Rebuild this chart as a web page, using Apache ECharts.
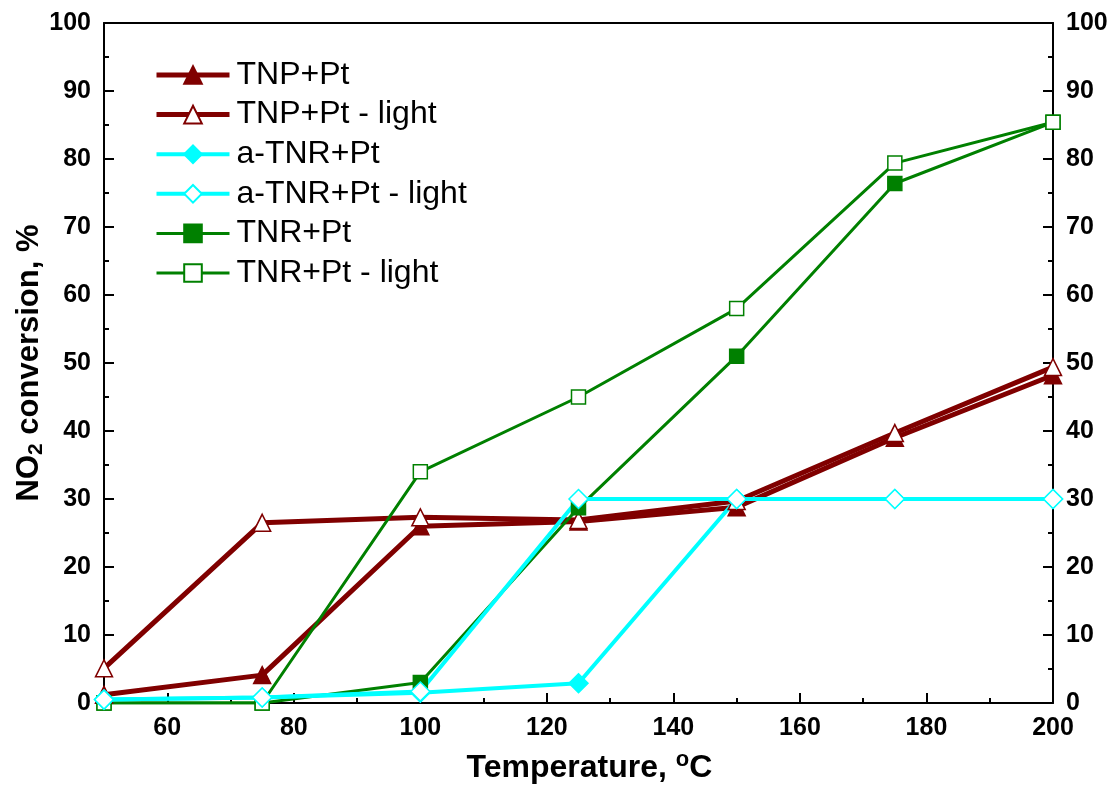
<!DOCTYPE html>
<html>
<head>
<meta charset="utf-8">
<script src="https://cdn.jsdelivr.net/npm/echarts@6/dist/echarts.min.js"></script>
<style>
  html, body { margin: 0; padding: 0; background: #fff; }
  #main { width: 1118px; height: 787px; }
</style>
</head>
<body>
<div id="main"></div>
<script>
// temperatures (°C)
const temps = [50, 75, 100, 125, 150, 175, 200];

// NO2 conversion, %
const tnpPt = [1.2, 4.1, 26, 26.7, 28.8, 39, 48.2];
const tnpPtLight = [5.1, 26.5, 27.3, 26.9, 29.7, 39.7, 49.4];
const aTnrPt = [0.5, 0.8, 1.5, 2.9, 30, 30, 30];
const aTnrPtLight = [0.5, 0.8, 1.7, 30, 30, 30, 30];
const tnrPt = [0, 0, 3, 28.7, 51, 76.4, 85.4];
const tnrPtLight = [0, 0, 34, 45, 58, 79.4, 85.4];

// tick labels
const xMajor = [60, 80, 100, 120, 140, 160, 180, 200];
const xMinor = [70, 90, 110, 130, 150, 170, 190];

const FONT = 'Liberation Sans, Arial, sans-serif';
const DARKRED = '#800000';
const CYAN = '#00ffff';
const GREEN = '#008000';

function pairs(ys) {
  return temps.map(function (t, i) { return [t, ys[i]]; });
}

let chartDom = document.getElementById('main');
let myChart = echarts.init(chartDom);

const tickLabel = {
  color: '#000',
  fontFamily: FONT,
  fontWeight: 'bold',
  fontSize: 25
};

function mkSeries(name, ys, color, width, symbol, size, filled) {
  return {
    name: name,
    type: 'line',
    data: pairs(ys),
    symbol: symbol,
    symbolSize: size,
    showAllSymbol: true,
    lineStyle: { color: color, width: width },
    itemStyle: {
      color: filled ? color : '#fff',
      borderColor: color,
      borderWidth: 1.5
    },
    emphasis: { disabled: true },
    animation: false
  };
}

let option = {
  animation: false,
  grid: { left: 104, right: 65, top: 23, bottom: 84, outerBoundsMode: 'none', containLabel: false },
  legend: {
    orient: 'vertical',
    left: 154,
    top: 59,
    itemWidth: 73,
    itemHeight: 22,
    itemGap: 7.6,
    padding: 0,
    textStyle: { fontFamily: FONT, fontSize: 32, color: '#000', padding: [0, 0, 0, 2] },
    data: [
      { name: 'TNP+Pt', lineStyle: { width: 5 } },
      { name: 'TNP+Pt - light', lineStyle: { width: 5 } },
      { name: 'a-TNR+Pt', lineStyle: { width: 4 } },
      { name: 'a-TNR+Pt - light', lineStyle: { width: 4 } },
      { name: 'TNR+Pt', lineStyle: { width: 3 } },
      { name: 'TNR+Pt - light', lineStyle: { width: 3 } }
    ]
  },
  xAxis: [
    {
      type: 'value',
      min: 50,
      max: 200,
      position: 'bottom',
      axisLine: { lineStyle: { color: '#000', width: 2 } },
      axisTick: { inside: true, length: 10, lineStyle: { color: '#000', width: 2 }, customValues: xMajor },
      axisLabel: Object.assign({ margin: 13, customValues: xMajor }, tickLabel),
      splitLine: { show: false },
      name: 'Temperature, {sup|o}C',
      nameLocation: 'middle',
      nameGap: 46,
      nameTextStyle: {
        color: '#000',
        fontFamily: FONT,
        fontWeight: 'bold',
        fontSize: 32,
        padding: [0, 0, 0, 22],
        rich: {
          sup: { fontFamily: FONT, fontWeight: 'bold', fontSize: 22, color: '#000', verticalAlign: 'top', padding: [0, 0, 16, 0] }
        }
      }
    },
    {
      type: 'value',
      min: 50,
      max: 200,
      position: 'bottom',
      axisLine: { show: false },
      axisTick: { inside: true, length: 5, lineStyle: { color: '#000', width: 2 }, customValues: xMinor },
      axisLabel: { show: false },
      splitLine: { show: false }
    },
    {
      type: 'value',
      min: 50,
      max: 200,
      position: 'top',
      axisLine: { lineStyle: { color: '#000', width: 2 } },
      axisTick: { show: false },
      axisLabel: { show: false },
      splitLine: { show: false }
    }
  ],
  yAxis: [
    {
      type: 'value',
      min: 0,
      max: 100,
      interval: 10,
      position: 'left',
      axisLine: { show: true, lineStyle: { color: '#000', width: 2 } },
      axisTick: { show: true, inside: true, length: 10, lineStyle: { color: '#000', width: 2 } },
      minorTick: { show: true, splitNumber: 2, length: 5, lineStyle: { color: '#000', width: 2 } },
      axisLabel: Object.assign({ margin: 13 }, tickLabel),
      splitLine: { show: false },
      name: 'NO{sub|2} conversion, %',
      nameLocation: 'middle',
      nameGap: 57,
      nameMoveOverlap: false,
      nameTextStyle: {
        color: '#000',
        fontFamily: FONT,
        fontWeight: 'bold',
        fontSize: 31,
        rich: {
          sub: { fontFamily: FONT, fontWeight: 'bold', fontSize: 21, color: '#000', verticalAlign: 'bottom', padding: [14, 0, 0, 0] }
        }
      }
    },
    {
      type: 'value',
      min: 0,
      max: 100,
      interval: 10,
      position: 'right',
      axisLine: { show: true, lineStyle: { color: '#000', width: 2 } },
      axisTick: { show: true, inside: true, length: 10, lineStyle: { color: '#000', width: 2 } },
      minorTick: { show: true, splitNumber: 2, length: 5, lineStyle: { color: '#000', width: 2 } },
      axisLabel: Object.assign({ margin: 13 }, tickLabel),
      splitLine: { show: false }
    }
  ],
  series: [
    mkSeries('TNP+Pt', tnpPt, DARKRED, 5, 'triangle', 17, true),
    mkSeries('TNP+Pt - light', tnpPtLight, DARKRED, 5, 'triangle', 17, false),
    mkSeries('TNR+Pt', tnrPt, GREEN, 3, 'rect', 14, true),
    mkSeries('TNR+Pt - light', tnrPtLight, GREEN, 3, 'rect', 14, false),
    mkSeries('a-TNR+Pt', aTnrPt, CYAN, 4, 'diamond', 19, true),
    mkSeries('a-TNR+Pt - light', aTnrPtLight, CYAN, 4, 'diamond', 19, false)
  ]
};

option && myChart.setOption(option);
</script>
</body>
</html>
